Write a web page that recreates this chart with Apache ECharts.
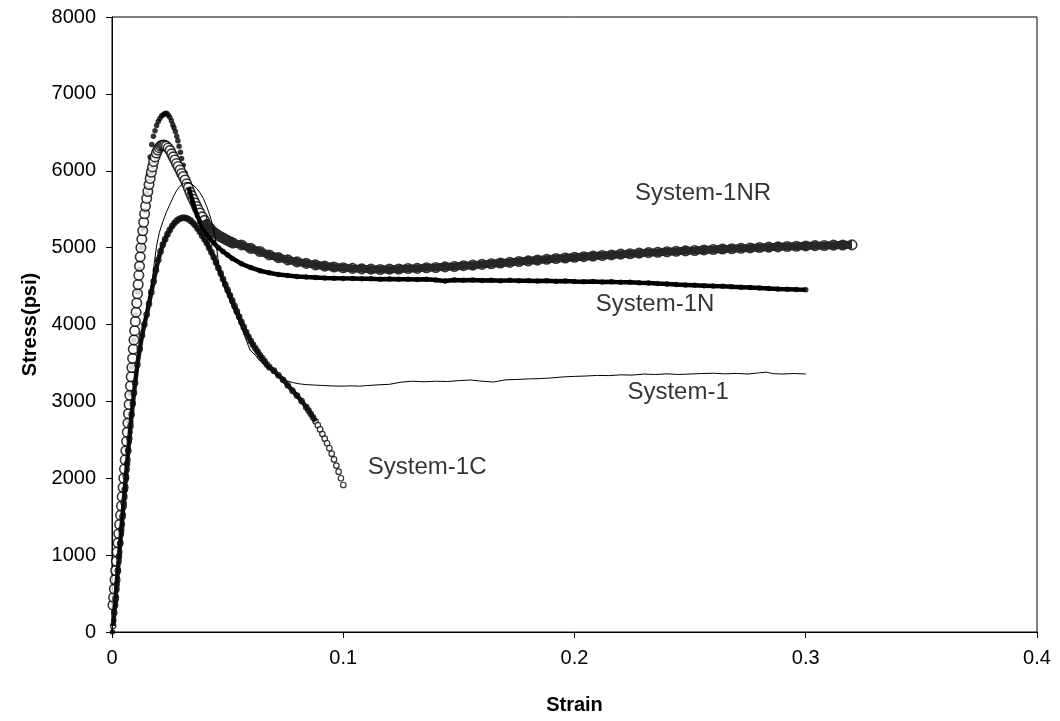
<!DOCTYPE html>
<html><head><meta charset="utf-8">
<script src="https://cdn.jsdelivr.net/npm/echarts@6/dist/echarts.min.js"></script>
<style>html,body{margin:0;padding:0;background:#fff}#chart{width:1060px;height:721px}</style>
</head><body><div id="chart"></div>
<script>
const xTickLabels = ['0','0.1','0.2','0.3','0.4'];
const yTickLabels = ['0','1000','2000','3000','4000','5000','6000','7000','8000'];
const seriesNames = ['System-1NR','System-1N','System-1','System-1C'];

// System-1NR (open circles) [strain, stress psi]
const sys1NR = [
[0.0004,350],[0.0007,450],[0.001,560],[0.0013,680],[0.0016,800],[0.0019,920],[0.0022,1040],[0.0026,1160],[0.0029,1280],[0.0033,1400],
[0.0037,1520],[0.0041,1640],[0.0044,1760],[0.0048,1880],[0.0051,2000],[0.0054,2120],[0.0057,2240],[0.006,2360],[0.0063,2480],[0.0066,2600],
[0.0069,2720],[0.0071,2840],[0.0074,2960],[0.0077,3080],[0.008,3200],[0.0083,3320],[0.0086,3440],[0.0089,3560],[0.0092,3680],[0.0095,3800],
[0.0098,3920],[0.0101,4040],[0.0104,4160],[0.0107,4280],[0.011,4400],[0.0113,4520],[0.0116,4640],[0.0119,4760],[0.0122,4880],[0.0125,5000],
[0.0129,5110],[0.0133,5220],[0.0137,5330],[0.0141,5440],[0.0145,5540],[0.015,5640],[0.0155,5730],[0.016,5820],[0.0165,5900],[0.017,5980],
[0.0175,6050],[0.018,6120],[0.0186,6180],[0.0192,6230],[0.0198,6270],[0.0204,6300],[0.021,6320],[0.0216,6330],[0.0222,6335],[0.0228,6330],
[0.0235,6320],[0.0243,6295],[0.0251,6265],[0.0258,6220],[0.0265,6180],[0.0272,6140],[0.0279,6095],[0.0286,6055],[0.0294,6010],[0.0301,5965],
[0.0308,5925],[0.0316,5880],[0.0323,5830],[0.033,5778],[0.0337,5724],[0.0344,5676],[0.0351,5630],[0.0359,5580],[0.0366,5535],[0.0373,5492],
[0.038,5450],[0.039,5400],[0.04,5355],[0.041,5300],[0.0424,5250],[0.0438,5205],[0.0452,5175],[0.0466,5148],[0.0481,5125],[0.0495,5100],
[0.051,5078],[0.0523,5060],[0.056,5035],[0.06,4990],[0.064,4950],[0.068,4905],[0.072,4870],[0.076,4840],[0.08,4815],[0.084,4795],
[0.088,4775],[0.092,4760],[0.096,4748],[0.1,4738],[0.104,4730],[0.108,4724],[0.112,4720],[0.116,4716],[0.12,4720],[0.124,4722],
[0.128,4728],[0.132,4730],[0.136,4738],[0.14,4742],[0.144,4750],[0.148,4755],[0.152,4765],[0.156,4772],[0.16,4782],[0.164,4790],
[0.168,4800],[0.172,4808],[0.176,4820],[0.18,4828],[0.184,4838],[0.188,4848],[0.192,4858],[0.196,4865],[0.2,4875],[0.204,4882],
[0.208,4890],[0.212,4898],[0.216,4905],[0.22,4915],[0.224,4920],[0.228,4928],[0.232,4935],[0.236,4940],[0.24,4946],[0.244,4952],
[0.248,4958],[0.252,4962],[0.256,4970],[0.26,4975],[0.264,4982],[0.268,4986],[0.272,4992],[0.276,4996],[0.28,5002],[0.284,5006],
[0.288,5010],[0.292,5014],[0.296,5018],[0.3,5022],[0.304,5026],[0.308,5028],[0.312,5032],[0.316,5034],[0.32,5036]
];

// System-1N (filled dots)
const sys1N = [
[0.0002,0],[0.0008,150],[0.0015,400],[0.0022,700],[0.003,1000],[0.0038,1350],[0.0046,1700],[0.0054,2050],[0.0062,2400],[0.007,2750],
[0.0078,3100],[0.0086,3450],[0.0094,3800],[0.0102,4120],[0.011,4420],[0.0118,4720],[0.0126,5000],[0.0134,5250],[0.0142,5480],[0.015,5700],
[0.0158,5950],[0.0165,6180],[0.0172,6340],[0.0179,6450],[0.0186,6520],[0.0193,6590],[0.02,6640],[0.0207,6680],[0.0215,6715],[0.0222,6730],
[0.0229,6745],[0.0236,6747],[0.0243,6725],[0.025,6695],[0.0257,6650],[0.0263,6600],[0.0268,6560],[0.0274,6510],[0.028,6450],[0.0285,6390],
[0.029,6320],[0.0296,6240],[0.0301,6160],[0.0308,6070],[0.0316,5970],[0.0324,5870],[0.0332,5780],[0.034,5690],[0.035,5590],[0.036,5490],
[0.037,5410],[0.038,5340],[0.039,5270],[0.04,5215],[0.042,5130],[0.044,5060],[0.046,5000],[0.048,4950],[0.05,4905],[0.052,4860],
[0.056,4790],[0.06,4740],[0.064,4700],[0.068,4672],[0.072,4650],[0.076,4636],[0.08,4625],[0.084,4618],[0.088,4612],[0.092,4606],
[0.096,4603],[0.1,4600],[0.104,4598],[0.108,4595],[0.112,4596],[0.116,4590],[0.12,4592],[0.124,4588],[0.128,4590],[0.132,4585],
[0.136,4588],[0.14,4578],[0.144,4565],[0.148,4580],[0.152,4575],[0.156,4578],[0.16,4572],[0.164,4576],[0.168,4570],[0.172,4574],
[0.176,4568],[0.18,4570],[0.184,4565],[0.188,4568],[0.192,4562],[0.196,4565],[0.2,4560],[0.204,4556],[0.208,4560],[0.212,4552],
[0.216,4555],[0.22,4548],[0.224,4550],[0.228,4542],[0.232,4540],[0.236,4532],[0.24,4528],[0.244,4520],[0.248,4515],[0.252,4510],
[0.256,4505],[0.26,4500],[0.264,4496],[0.268,4490],[0.272,4485],[0.276,4480],[0.28,4475],[0.284,4468],[0.288,4462],[0.292,4460],
[0.296,4455],[0.3,4452]
];

// System-1C (small open circles)
const sys1C = [
[0.0005,80],[0.001,250],[0.0015,430],[0.002,620],[0.0025,800],[0.003,980],[0.0035,1150],[0.004,1330],[0.0045,1500],[0.005,1680],
[0.0055,1850],[0.006,2020],[0.0065,2190],[0.007,2360],[0.0075,2520],[0.008,2680],[0.0085,2830],[0.009,2970],[0.0095,3110],[0.01,3240],
[0.011,3480],[0.012,3680],[0.013,3860],[0.014,4000],[0.015,4130],[0.016,4270],[0.017,4420],[0.018,4560],[0.019,4710],[0.02,4840],
[0.021,4950],[0.022,5040],[0.023,5110],[0.024,5175],[0.025,5230],[0.026,5280],[0.027,5320],[0.028,5350],[0.029,5372],[0.03,5385],
[0.031,5390],[0.032,5385],[0.033,5372],[0.034,5350],[0.035,5322],[0.036,5290],[0.037,5250],[0.038,5205],[0.039,5155],[0.04,5110],
[0.041,5060],[0.042,5000],[0.043,4940],[0.044,4875],[0.045,4805],[0.046,4735],[0.047,4665],[0.048,4592],[0.049,4520],[0.05,4450],
[0.051,4380],[0.052,4310],[0.053,4240],[0.054,4170],[0.055,4100],[0.056,4030],[0.057,3965],[0.058,3900],[0.059,3840],[0.06,3785],
[0.061,3735],[0.062,3690],[0.063,3645],[0.064,3600],[0.065,3560],[0.066,3520],[0.067,3480],[0.068,3445],[0.07,3400],[0.072,3340],
[0.074,3280],[0.076,3210],[0.078,3140],[0.08,3075],[0.082,3005],[0.084,2925],[0.085,2880],[0.086,2835],[0.087,2790],[0.088,2740],
[0.089,2690],[0.09,2635],[0.091,2575],[0.092,2515],[0.093,2455],[0.094,2390],[0.095,2320],[0.096,2245],[0.097,2165],[0.098,2085],
[0.099,2000],[0.1,1912]
];

// System-1 (thin line)
const sys1 = [
[0,0],[0.002,640],[0.004,1350],[0.006,2050],[0.008,2700],[0.01,3260],[0.012,3700],[0.014,4040],[0.016,4350],[0.0175,4600],
[0.0185,4850],[0.0193,5030],[0.0205,5200],[0.022,5340],[0.0235,5460],[0.025,5560],[0.0265,5660],[0.028,5745],[0.0294,5800],[0.031,5835],
[0.0323,5848],[0.0337,5842],[0.035,5815],[0.0366,5770],[0.038,5715],[0.0395,5640],[0.041,5532],[0.0425,5400],[0.0437,5272],[0.0445,5140],
[0.0452,5012],[0.0458,4860],[0.0463,4720],[0.048,4530],[0.05,4380],[0.052,4230],[0.054,4100],[0.056,3960],[0.058,3800],[0.0597,3668],
[0.062,3600],[0.0635,3540],[0.065,3505],[0.067,3450],[0.069,3390],[0.071,3340],[0.073,3300],[0.0755,3270],[0.078,3245],[0.081,3228],
[0.084,3218],[0.087,3213],[0.09,3208],[0.093,3204],[0.096,3200],[0.099,3198],[0.1015,3200],[0.104,3202],[0.107,3198],[0.11,3205],
[0.115,3215],[0.12,3222],[0.125,3250],[0.13,3262],[0.135,3255],[0.14,3262],[0.145,3258],[0.15,3270],[0.155,3278],[0.16,3262],
[0.165,3252],[0.17,3280],[0.175,3285],[0.18,3292],[0.185,3296],[0.19,3305],[0.195,3318],[0.2,3325],[0.205,3330],[0.21,3338],
[0.215,3335],[0.22,3345],[0.225,3342],[0.23,3355],[0.235,3350],[0.24,3358],[0.245,3350],[0.25,3356],[0.255,3362],[0.26,3366],
[0.265,3358],[0.27,3364],[0.275,3356],[0.28,3372],[0.283,3380],[0.286,3360],[0.29,3356],[0.295,3362],[0.3,3356]
];

const FONT = '"Liberation Sans", Arial, sans-serif';
const chart = echarts.init(document.getElementById('chart'), null, {renderer: 'canvas'});

const BAND_FROM = 0.04;
const nrItems = sys1NR.map(p => p[0] >= BAND_FROM
  ? {value: p, itemStyle: {color: 'rgba(255,255,255,0)'}}
  : {value: p});

const option = {
  animation: false,
  backgroundColor: '#fff',
  grid: {left: 112, right: 23, top: 17, bottom: 89, show: true, borderColor: '#000', borderWidth: 1, backgroundColor: 'transparent'},
  xAxis: {
    type: 'value', min: 0, max: 0.4, interval: 0.1,
    name: 'Strain', nameLocation: 'middle', nameGap: 63,
    nameTextStyle: {fontFamily: FONT, fontSize: 20, fontWeight: 'bold', color: '#000'},
    axisLine: {show: true, onZero: false, lineStyle: {color: '#000', width: 1}},
    axisTick: {show: true, inside: false, length: 6, lineStyle: {color: '#000'}},
    axisLabel: {fontFamily: FONT, fontSize: 20, color: '#000', margin: 16,
      formatter: (v) => xTickLabels[Math.round(v * 10)]},
    splitLine: {show: false}
  },
  yAxis: {
    type: 'value', min: 0, max: 8000, interval: 1000,
    name: 'Stress(psi)', nameLocation: 'middle', nameGap: 71, nameRotate: 90,
    nameTextStyle: {fontFamily: FONT, fontSize: 20, fontWeight: 'bold', color: '#000'},
    axisLine: {show: true, onZero: false, lineStyle: {color: '#000', width: 1}},
    axisTick: {show: true, inside: false, length: 6, lineStyle: {color: '#000'}},
    axisLabel: {fontFamily: FONT, fontSize: 20, color: '#000', margin: 16,
      formatter: (v) => yTickLabels[Math.round(v / 1000)]},
    splitLine: {show: false}
  },
  series: [
    {name: seriesNames[1], type: 'scatter', data: sys1N, symbol: 'circle', symbolSize: 5.5,
     itemStyle: {color: '#000'}},
    {name: seriesNames[1], type: 'line', data: sys1N.filter(p => p[0] >= 0.033), showSymbol: false,
     lineStyle: {color: '#000', width: 4.5}},
    {name: seriesNames[0], type: 'line', data: sys1NR.filter(p => p[0] >= BAND_FROM), showSymbol: false,
     lineStyle: {color: '#262626', width: 8}},
    {name: seriesNames[0], type: 'scatter', data: nrItems, symbol: 'circle', symbolSize: 9.5,
     itemStyle: {color: '#fff', borderColor: '#000', borderWidth: 1.6}},
    {name: seriesNames[3], type: 'scatter', data: sys1C, symbol: 'circle', symbolSize: 5.5,
     itemStyle: {color: '#fff', borderColor: '#000', borderWidth: 1.2}},
    {name: seriesNames[3], type: 'line', data: sys1C.filter(p => p[0] <= 0.088), showSymbol: false,
     lineStyle: {color: '#111', width: 4.5}},
    {name: seriesNames[2], type: 'line', data: sys1, showSymbol: false,
     lineStyle: {color: '#000', width: 1}},
    {type: 'scatter', symbolSize: 0, silent: true,
     label: {show: true, position: 'inside', formatter: '{b}', fontFamily: FONT, fontSize: 24, color: '#000'},
     data: [
       {name: seriesNames[0], value: [0.2556, 5711]},
       {name: seriesNames[1], value: [0.2348, 4267]},
       {name: seriesNames[2], value: [0.2448, 3122]},
       {name: seriesNames[3], value: [0.1363, 2146]}
     ]}
  ]
};
chart.setOption(option);
</script>
</body></html>
